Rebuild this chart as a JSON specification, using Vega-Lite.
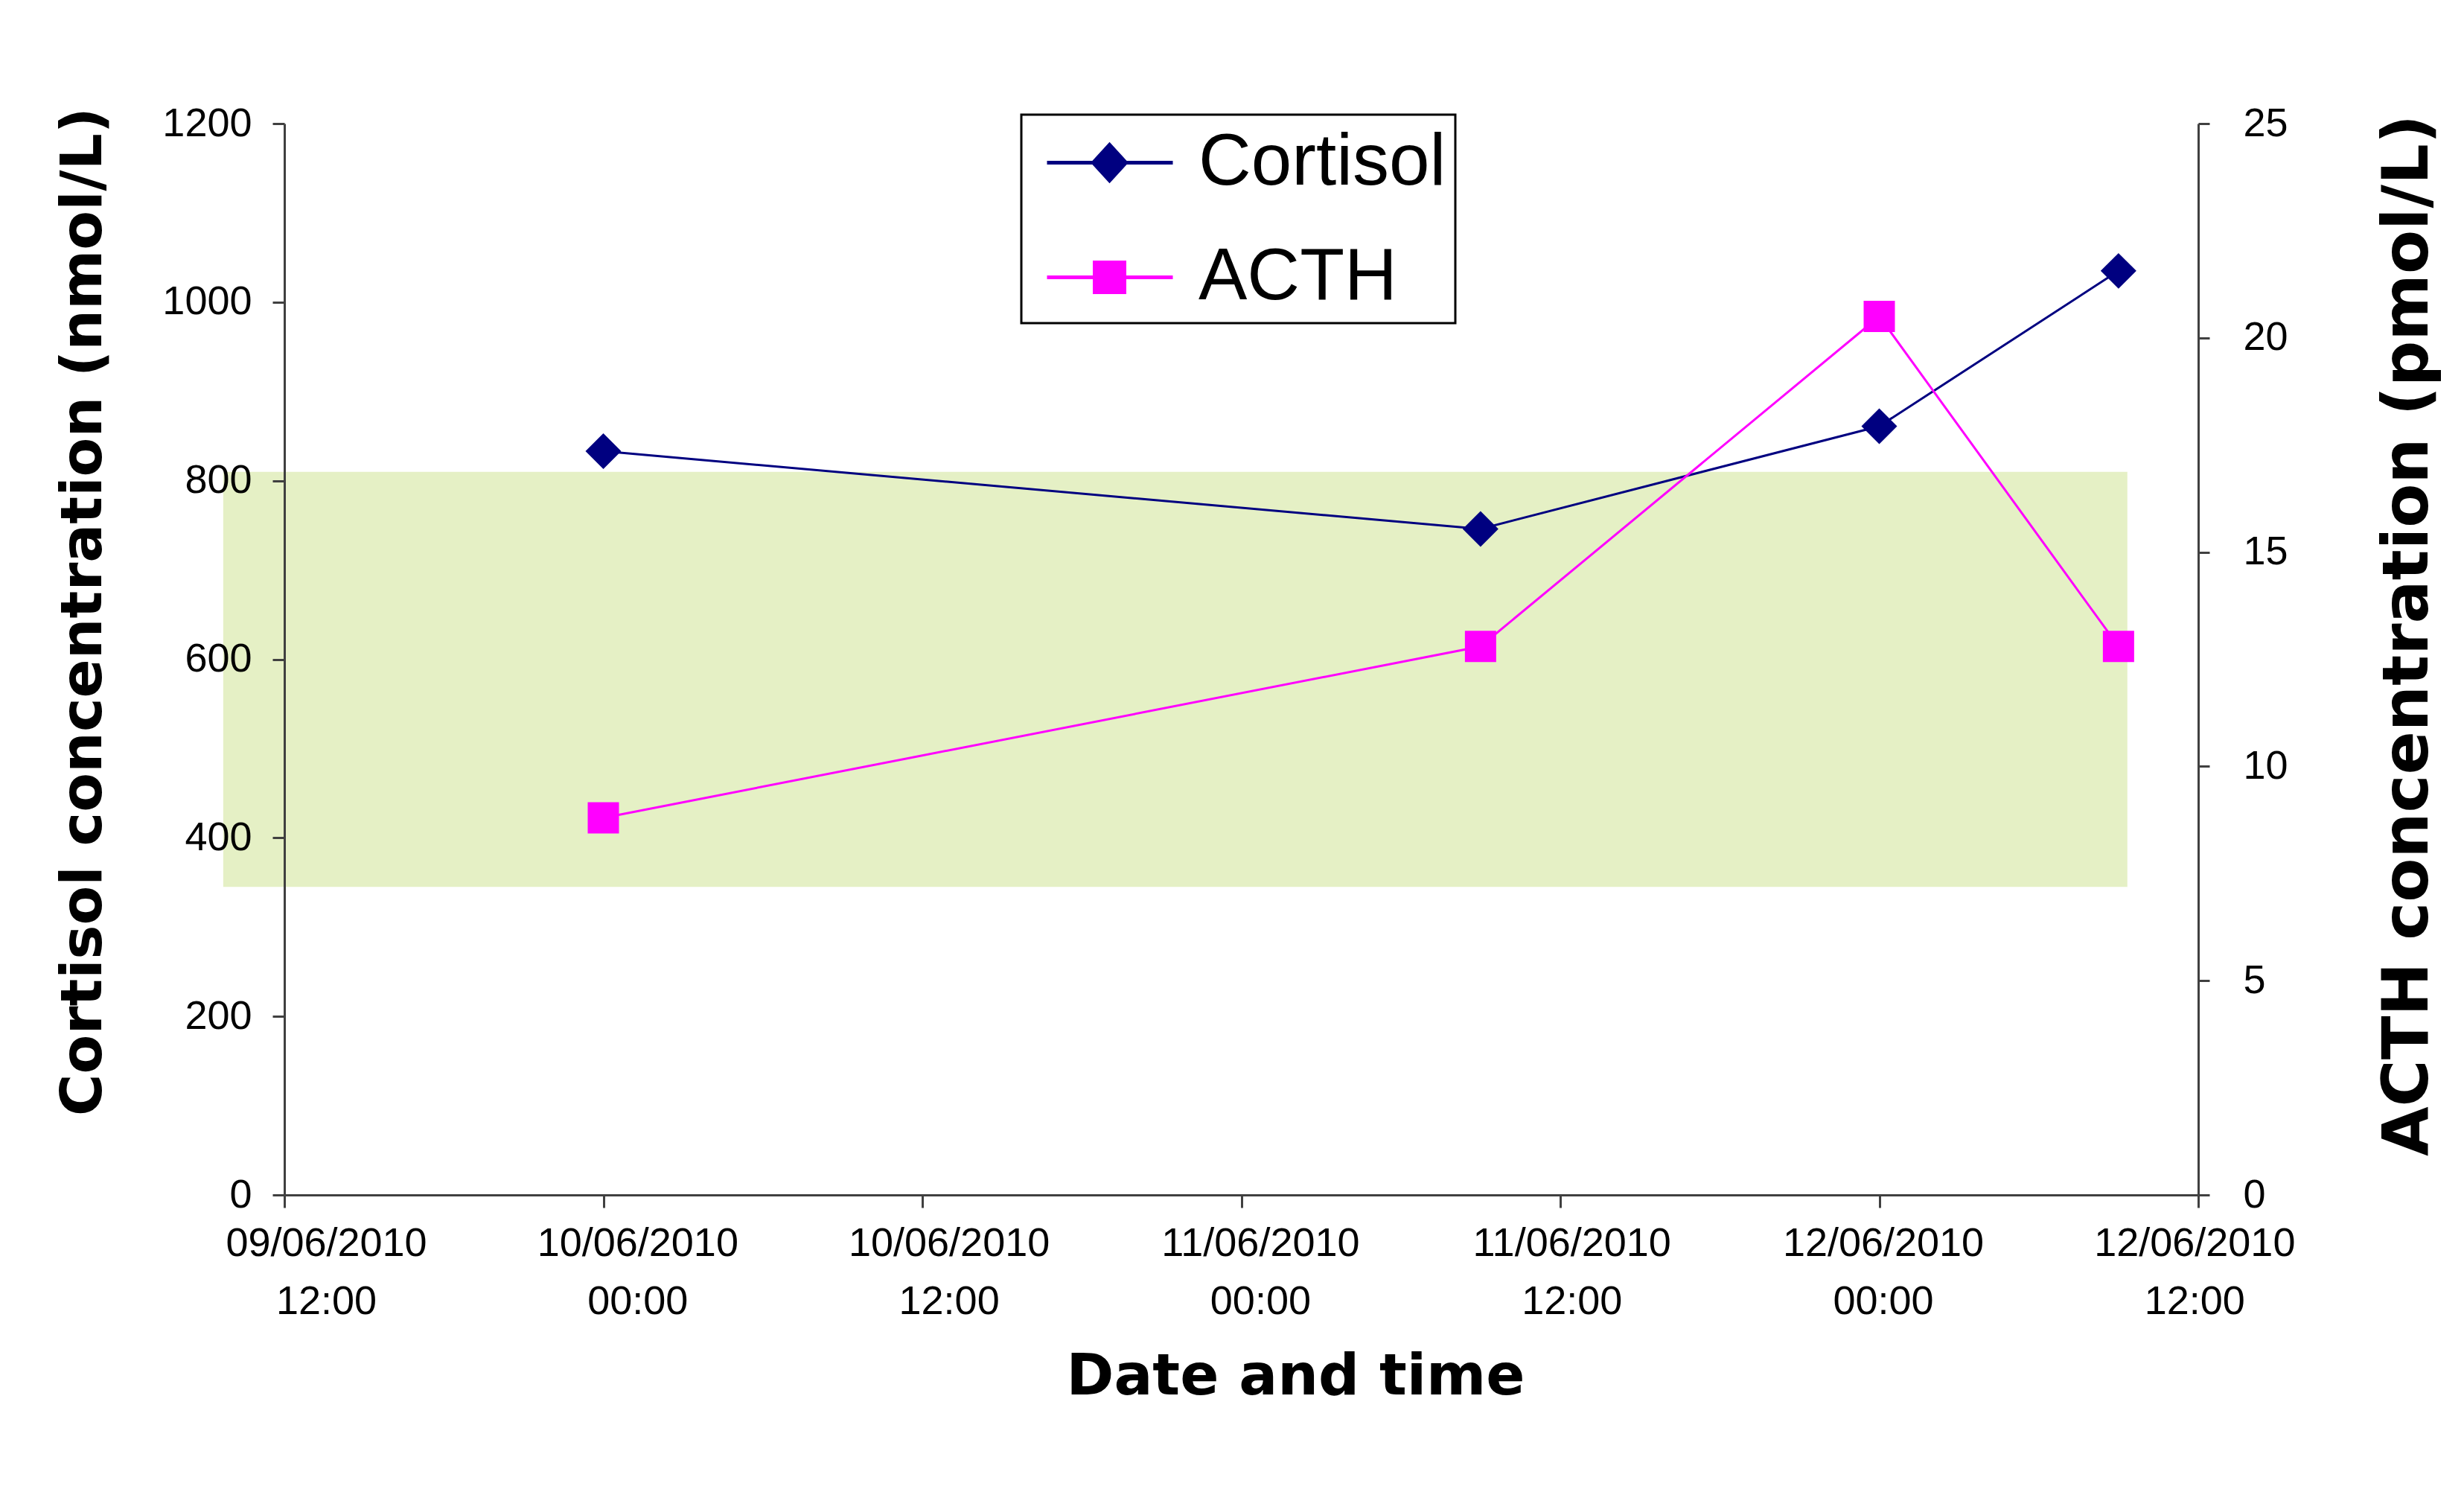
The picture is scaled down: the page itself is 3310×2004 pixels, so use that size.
{
  "$schema": "https://vega.github.io/schema/vega-lite/v6.json",
  "autosize": "none",
  "width": 2571,
  "height": 1439,
  "padding": {"left": 382, "top": 166, "right": 357, "bottom": 399},
  "background": "white",
  "config": {"view": {"stroke": null}},
  "datasets": {
    "band": [
      {"time": "2010-06-09T09:42:00Z", "time_end": "2010-06-12T09:20:00Z", "value": 345, "value_high": 810}
    ],
    "cortisol": [
      {"time": "2010-06-10T00:00:00Z", "series": "Cortisol", "value": 833},
      {"time": "2010-06-11T09:00:00Z", "series": "Cortisol", "value": 746},
      {"time": "2010-06-12T00:00:00Z", "series": "Cortisol", "value": 861},
      {"time": "2010-06-12T09:00:00Z", "series": "Cortisol", "value": 1035}
    ],
    "acth": [
      {"time": "2010-06-10T00:00:00Z", "series": "ACTH", "value": 8.8},
      {"time": "2010-06-11T09:00:00Z", "series": "ACTH", "value": 12.8},
      {"time": "2010-06-12T00:00:00Z", "series": "ACTH", "value": 20.5},
      {"time": "2010-06-12T09:00:00Z", "series": "ACTH", "value": 12.8}
    ]
  },
  "encoding": {
    "x": {
      "field": "time",
      "type": "temporal",
      "scale": {
        "type": "utc",
        "domain": [
          {"year": 2010, "month": 6, "date": 9, "hours": 12, "utc": true},
          {"year": 2010, "month": 6, "date": 12, "hours": 12, "utc": true}
        ]
      },
      "axis": {
        "orient": "bottom",
        "values": [
          {"year": 2010, "month": 6, "date": 9, "hours": 12, "utc": true},
          {"year": 2010, "month": 6, "date": 10, "hours": 0, "utc": true},
          {"year": 2010, "month": 6, "date": 10, "hours": 12, "utc": true},
          {"year": 2010, "month": 6, "date": 11, "hours": 0, "utc": true},
          {"year": 2010, "month": 6, "date": 11, "hours": 12, "utc": true},
          {"year": 2010, "month": 6, "date": 12, "hours": 0, "utc": true},
          {"year": 2010, "month": 6, "date": 12, "hours": 12, "utc": true}
        ],
        "title": "Date and time",
        "labelExpr": "[utcFormat(datum.value, '%d/%m/%Y'), utcFormat(datum.value, '%H:%M')]",
        "labelFont": "Liberation Sans",
        "labelFontSize": 54,
        "labelColor": "#000000",
        "labelLineHeight": 78,
        "labelPadding": 21,
        "labelLimit": 1000,
        "labelFlush": false,
        "labelOverlap": false,
        "labelBound": false,
        "labelOffset": {"expr": "56 - 10.2 * (+datum.value - 1276084800000) / 43200000"},
        "tickSize": 17,
        "tickWidth": 3,
        "tickColor": "#404040",
        "domainColor": "#404040",
        "domainWidth": 3,
        "grid": false,
        "titleFont": "DejaVu Sans",
        "titleFontWeight": "bold",
        "titleFontSize": 77,
        "titleColor": "#000000",
        "titleX": 1358,
        "titleY": 244,
        "titleAlign": "center",
        "titleBaseline": "middle",
        "zindex": 1
      }
    }
  },
  "layer": [
    {
      "encoding": {
        "y": {
          "field": "value",
          "type": "quantitative",
          "scale": {"domain": [0, 1200], "nice": false, "zero": true},
          "axis": {
            "orient": "left",
            "title": "Cortisol concentration (nmol/L)",
            "values": [0, 200, 400, 600, 800, 1000, 1200],
            "format": "d",
            "labelFont": "Liberation Sans",
            "labelFontSize": 54,
            "labelColor": "#000000",
            "labelPadding": 28,
            "tickSize": 16,
            "tickWidth": 3,
            "tickColor": "#404040",
            "domainColor": "#404040",
            "domainWidth": 3,
            "grid": false,
            "titleFont": "DejaVu Sans",
            "titleFontWeight": "bold",
            "titleFontSize": 77,
            "titleColor": "#000000",
            "titleAngle": 270,
            "titleX": -270,
            "titleY": 655,
            "titleAlign": "center",
            "titleBaseline": "middle",
            "zindex": 1
          }
        }
      },
      "layer": [
        {
          "data": {"name": "band"},
          "mark": {"type": "rect", "color": "#E5F0C5"},
          "encoding": {
            "x2": {"field": "time_end"},
            "y2": {"field": "value_high"}
          }
        },
        {
          "data": {"name": "cortisol"},
          "mark": {"type": "line", "strokeWidth": 3},
          "encoding": {
            "color": {
              "field": "series",
              "type": "nominal",
              "scale": {"domain": ["Cortisol", "ACTH"], "range": ["#000080", "#FF00FF"]},
              "legend": {
                "orient": "none",
                "legendX": 990,
                "legendY": -12,
                "title": null,
                "labelFont": "Liberation Sans",
                "labelFontSize": 98,
                "labelColor": "#000000",
                "labelOffset": 121,
                "labelLimit": 2000,
                "symbolSize": 10000,
                "symbolStrokeWidth": 5,
                "rowPadding": 52,
                "padding": 12,
                "strokeColor": "#000000",
                "fillColor": "#FFFFFF",
                "encode": {
                  "legend": {"update": {"stroke": {"value": "#000000"}, "strokeWidth": {"value": 3}}},
                  "symbols": {
                    "update": {
                      "shape": {"signal": "datum.value === 'Cortisol' ? 'M-0.6,0H2.78M1.08,-0.48L1.52,0L1.08,0.48L0.64,0Z' : 'M-0.6,0H2.78M0.68,-0.4H1.48V0.4H0.68Z'"},
                      "fill": {"scale": "color", "field": "value"},
                      "stroke": {"scale": "color", "field": "value"},
                      "strokeWidth": {"value": 5},
                      "opacity": {"value": 1},
                      "fillOpacity": {"value": 1},
                      "strokeOpacity": {"value": 1}
                    }
                  }
                }
              }
            }
          }
        },
        {
          "data": {"name": "cortisol"},
          "mark": {"type": "point", "shape": "diamond", "filled": true, "size": 2300, "opacity": 1},
          "encoding": {
            "color": {"field": "series", "type": "nominal", "scale": {"domain": ["Cortisol", "ACTH"], "range": ["#000080", "#FF00FF"]}}
          }
        }
      ]
    },
    {
      "data": {"name": "acth"},
      "encoding": {
        "y": {
          "field": "value",
          "type": "quantitative",
          "scale": {"domain": [0, 25], "nice": false, "zero": true},
          "axis": {
            "orient": "right",
            "title": "ACTH concentration (pmol/L)",
            "values": [0, 5, 10, 15, 20, 25],
            "labelFont": "Liberation Sans",
            "labelFontSize": 54,
            "labelColor": "#000000",
            "labelPadding": 45,
            "tickSize": 15,
            "tickWidth": 3,
            "tickColor": "#404040",
            "domainColor": "#404040",
            "domainWidth": 3,
            "grid": false,
            "titleFont": "DejaVu Sans",
            "titleFontWeight": "bold",
            "titleFontSize": 86,
            "titleColor": "#000000",
            "titleAngle": 270,
            "titleX": 281,
            "titleY": 687,
            "titleAlign": "center",
            "titleBaseline": "middle",
            "zindex": 1
          }
        }
      },
      "layer": [
        {
          "mark": {"type": "line", "strokeWidth": 3},
          "encoding": {
            "color": {"field": "series", "type": "nominal", "scale": {"domain": ["Cortisol", "ACTH"], "range": ["#000080", "#FF00FF"]}}
          }
        },
        {
          "mark": {"type": "point", "shape": "square", "filled": true, "size": 1764, "opacity": 1},
          "encoding": {
            "color": {"field": "series", "type": "nominal", "scale": {"domain": ["Cortisol", "ACTH"], "range": ["#000080", "#FF00FF"]}}
          }
        }
      ]
    }
  ],
  "resolve": {"scale": {"y": "independent"}}
}
